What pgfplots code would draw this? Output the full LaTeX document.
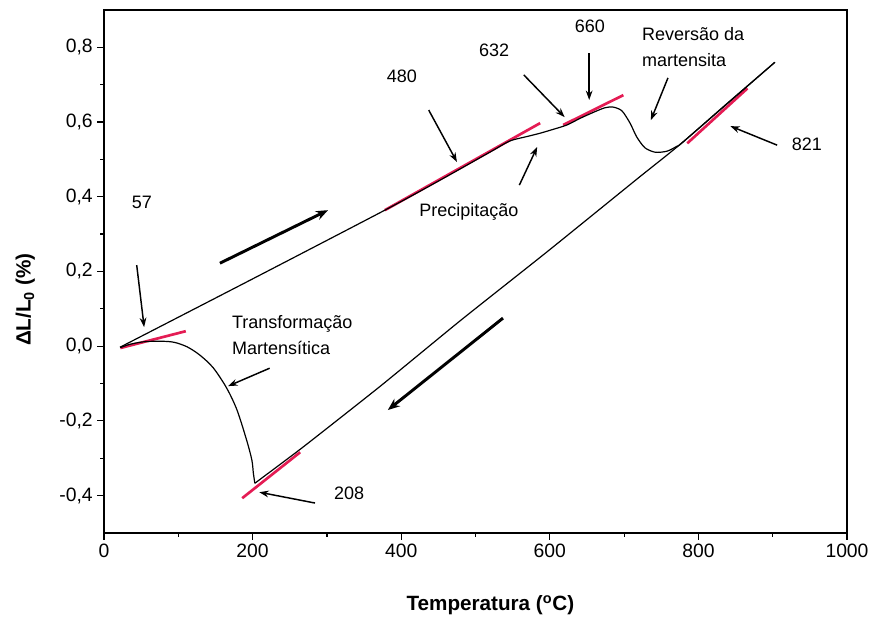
\documentclass[border=0pt]{standalone}
\usepackage{pgfplots}
\pgfplotsset{compat=1.18}
\usepackage{fontspec}
\setmainfont{Liberation Sans}
\usetikzlibrary{arrows.meta}
\definecolor{tanred}{RGB}{228,28,84}

\begin{document}
\begin{tikzpicture}
\begin{axis}[
  width=557.25pt, height=392.25pt, scale only axis,
  xmin=0, xmax=1000, ymin=-0.5, ymax=0.9,
  axis line style={line width=1pt},
  xtick pos=bottom, ytick pos=left,
  clip=false,
  xtick={0,200,400,600,800,1000},
  xticklabels={0,200,400,600,800,1000},
  minor x tick num=1,
  ytick={-0.4,-0.2,0,0.2,0.4,0.6,0.8},
  yticklabels={{-0,4},{-0,2},{0,0},{0,2},{0,4},{0,6},{0,8}},
  minor y tick num=1,
  tick align=outside,
  major tick length=5pt, minor tick length=3pt,
  every tick/.style={black, line width=0.9pt},
  tick label style={font=\fontsize{14.5}{16}\selectfont},
  /pgf/number format/assume math mode=true,
  xlabel={\textbf{Temperatura (\textsuperscript{o}C)}},
  xlabel style={at={(rel axis cs:0.52,-0.138)}, anchor=center, font=\fontsize{15.5}{18}\selectfont},
  ylabel={\textbf{ΔL/L\textsubscript{0} (\%)}},
  ylabel style={at={(rel axis cs:-0.106,0.446)}, anchor=center, font=\fontsize{15.5}{18}\selectfont},
]
% picture extent
\path (rel axis cs:-0.14,-0.1644) rectangle (rel axis cs:1.035,1.019);

% tangent lines used to read the transformation temperatures
\addplot[tanred, line width=2pt] coordinates {(22,-0.005) (110,0.040)};
\addplot[tanred, line width=2pt] coordinates {(378,0.364) (587,0.597)};
\addplot[tanred, line width=2pt] coordinates {(618,0.592) (699,0.672)};
\addplot[tanred, line width=2pt] coordinates {(785,0.543) (866,0.690)};
\addplot[tanred, line width=2pt] coordinates {(186,-0.407) (264,-0.284)};

% heating
\addplot[black, line width=0.9pt, smooth, tension=0.45] coordinates {
  (21.5,-0.003) (200,0.180) (378,0.364) (452,0.444) (520,0.520)
  (546,0.549) (569,0.561) (587,0.570) (604,0.580) (623,0.592)
  (641,0.610) (660,0.627) (674,0.638) (685,0.640) (697,0.630)
  (708,0.597) (717,0.560) (728,0.531) (742,0.519) (758,0.522)
  (771,0.535) (779,0.546) (840,0.652) (903,0.760)};

% cooling
\addplot[black, line width=0.9pt, smooth, tension=0.3] coordinates {
  (903,0.760) (779,0.546) (719,0.450) (596,0.252) (480,0.069)
  (372,-0.107) (268,-0.270) (203,-0.367)};

% martensitic transformation
\addplot[black, line width=0.9pt, smooth, tension=0.5] coordinates {
  (203,-0.367) (201,-0.340) (199,-0.305) (192,-0.252) (179,-0.171)
  (165,-0.112) (147,-0.058) (129,-0.024) (112,-0.002) (95,0.010)
  (79,0.013) (55,0.012) (35,0.005) (22,-0.004)};

% direction of the thermal cycle
\draw[line width=2.2pt, -{Stealth[length=9pt,width=7pt]}] (axis cs:156,0.222) -- (axis cs:301.5,0.364);
\draw[line width=2.2pt, -{Stealth[length=9pt,width=7pt]}] (axis cs:537,0.075) -- (axis cs:382,-0.171);

% pointers
\tikzset{ptr/.style={line width=1.1pt, -{Stealth[length=7pt,width=5pt]}}}
\draw[ptr] (axis cs:44,0.217) -- (axis cs:54,0.051);
\draw[ptr] (axis cs:437,0.632) -- (axis cs:475,0.493);
\draw[ptr] (axis cs:565,0.726) -- (axis cs:620,0.613);
\draw[ptr] (axis cs:653,0.784) -- (axis cs:653,0.659);
\draw[ptr] (axis cs:759,0.718) -- (axis cs:736,0.605);
\draw[ptr] (axis cs:906,0.538) -- (axis cs:843,0.589);
\draw[ptr] (axis cs:559,0.431) -- (axis cs:583,0.533);
\draw[ptr] (axis cs:223,-0.059) -- (axis cs:167,-0.107);
\draw[ptr] (axis cs:284,-0.420) -- (axis cs:209,-0.391);

% labels
\tikzset{lbl/.style={font=\fontsize{13.5}{19.5}\selectfont, inner sep=0pt}}
\node[lbl] at (axis cs:51,0.386) {57};
\node[lbl] at (axis cs:401,0.723) {480};
\node[lbl] at (axis cs:525,0.793) {632};
\node[lbl] at (axis cs:654,0.857) {660};
\node[lbl] at (axis cs:946,0.541) {821};
\node[lbl] at (axis cs:330,-0.394) {208};
\node[lbl] at (axis cs:491,0.359) {Precipitação};
\node[lbl, anchor=west, align=left] at (axis cs:724,0.80) {Reversão da\\martensita};
\node[lbl, anchor=west, align=left] at (axis cs:172,0.029) {Transformação\\Martensítica};
\end{axis}
\end{tikzpicture}
\end{document}
